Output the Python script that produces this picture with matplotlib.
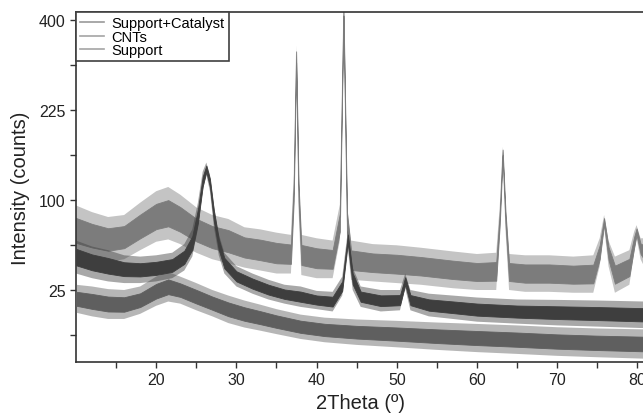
import numpy as np
import matplotlib
matplotlib.use('Agg')
import matplotlib.pyplot as plt
from matplotlib.lines import Line2D
from matplotlib.ticker import FixedLocator

plt.rcParams['font.family'] = ['Liberation Sans', 'DejaVu Sans']

# Support+Catalyst: angle, lower / upper edge of the noisy trace (counts)
sc_x  = [10, 12, 14, 16, 18, 20, 21.5, 23, 25, 27, 29, 31, 33, 35, 36.8, 37.15, 37.45, 37.75, 38.1,
         40, 42, 42.9, 43.35, 43.8, 44.3, 47, 50, 53, 57, 60, 62.4, 62.85, 63.2, 63.55, 64.0,
         66, 69, 72, 74.5, 75.3, 75.85, 76.4, 77.2, 79.0, 79.6, 79.9, 80.4, 81]
sc_lo = [48, 45, 43, 45, 52, 59, 61, 57, 50, 45, 42, 39, 37, 35, 35, 90, 300, 90, 34,
         32, 32, 60, 400, 60, 31, 30, 29, 28, 26, 25, 25, 70, 152, 70, 25,
         24, 24, 23.5, 23.5, 40, 72, 40, 23.5, 28, 50, 62, 45, 38]
sc_hi = [94, 87, 82, 84, 97, 110, 115, 106, 92, 84, 80, 72, 70, 67, 65, 130, 345, 130, 65,
         62, 60, 95, 440, 95, 60, 57, 56, 54, 51, 49, 50, 95, 168, 95, 49,
         48, 48, 47, 48, 62, 84, 60, 47, 52, 68, 74, 62, 62]

# CNTs
cnt_x  = [10, 12, 14, 16, 18, 20, 22, 23.5, 24.5, 25.2, 25.8, 26.25, 26.7, 27.2, 27.8, 28.5,
          30, 32, 34, 36, 38, 40, 42, 43.2, 43.9, 44.5, 45.5, 48, 50.4, 51.05, 51.7,
          54, 57, 60, 65, 70, 75, 81]
cnt_lo = [35, 32, 30, 29, 29, 30, 32, 37, 47, 70, 110, 130, 110, 72, 48, 35,
          27, 23, 20, 18, 16.5, 15.5, 14.5, 22, 55, 25, 16.5, 14.5, 15, 26, 15,
          12.5, 11.5, 10.5, 9.8, 9.2, 8.8, 8.3]
cnt_hi = [60, 55, 52, 48, 47, 48, 50, 57, 70, 97, 134, 146, 130, 94, 66, 50,
          40, 35, 31, 28, 27, 24.5, 24, 33, 69, 39, 27, 25, 25, 35, 25,
          23, 22, 21, 20, 19.8, 19.5, 19]

# Support
sup_x  = [10, 12, 14, 16, 18, 20, 21.5, 23, 25, 27, 29, 31, 33, 35, 38, 41, 45, 50, 55, 60,
          65, 70, 75, 81]
sup_lo = [14, 12.5, 11.5, 11.5, 13.5, 17, 19, 18, 15, 12.5, 10, 8.5, 7.5, 6.5, 5.2, 4.4, 3.8,
          3.3, 2.8, 2.4, 2.1, 1.8, 1.6, 1.4]
sup_hi = [28, 27, 25.5, 25, 27, 33, 36, 33, 29, 25, 22, 19.5, 17.5, 15.5, 13.2, 12, 11.3,
          10.8, 10.2, 9.7, 9.2, 8.6, 8.2, 7.9]

labels = ['Support+Catalyst', 'CNTs', 'Support']
colors = ['#7c7c7c', '#3e3e3e', '#5f5f5f']
legend_colors = ['#9a9a9a', '#a4a4a4', '#a4a4a4']

fig = plt.figure(figsize=(6.43, 4.14), dpi=100)
ax = fig.add_axes([76/643, 51/414, 569.4/643, 350/414])
ax.set_yscale('function', functions=(lambda v: np.sqrt(np.clip(v, 0, None)), np.square))


def band(x, lo, hi, color, z):
    x = np.array(x, float)
    lo = np.sqrt(np.array(lo, float))
    hi = np.sqrt(np.array(hi, float))
    # light spiky fringe, then the dense core of the trace
    ax.fill_between(x, lo**2, hi**2, facecolor=color, alpha=0.45, lw=0, zorder=z)
    c_lo = lo + 0.25*(hi - lo)
    c_hi = hi - 0.25*(hi - lo)
    ax.fill_between(x, c_lo**2, c_hi**2, color=color, lw=0.6, zorder=z + 0.5)


band(sc_x, sc_lo, sc_hi, colors[0], 2)
band(sup_x, sup_lo, sup_hi, colors[2], 3)
band(cnt_x, cnt_lo, cnt_hi, colors[1], 4)

ax.set_xlim(10, 81)
ax.set_ylim(1, 418)
ax.xaxis.set_major_locator(FixedLocator([20, 30, 40, 50, 60, 70, 80]))
ax.xaxis.set_minor_locator(FixedLocator([15, 25, 35, 45, 55, 65, 75]))
ax.yaxis.set_major_locator(FixedLocator([25, 100, 225, 400]))
ax.yaxis.set_minor_locator(FixedLocator([6.25, 56.25, 156.25, 306.25]))
ax.set_yticklabels(['25', '100', '225', '400'])
ax.tick_params(which='both', direction='out', length=4, width=1, colors='#333333',
               labelsize=11.5, labelcolor='#222222')
for s in ax.spines.values():
    s.set_color('#333333')
    s.set_linewidth(1.2)

ax.set_xlabel('2Theta (º)', fontsize=14.5, color='#222222', labelpad=4)
ax.set_ylabel('Intensity (counts)', fontsize=14.5, color='#222222', labelpad=6)

handles = [Line2D([], [], color=c, lw=1.2) for c in legend_colors]
leg = ax.legend(handles, labels, loc='upper left', bbox_to_anchor=(0, 1), borderaxespad=0,
                fontsize=10.5, fancybox=False, framealpha=1, edgecolor='#404040',
                handlelength=1.6, handletextpad=0.5, labelspacing=-0.05, borderpad=0.3)
leg.get_frame().set_linewidth(1.2)
leg.set_zorder(10)

plt.savefig('out.png', dpi=100)
